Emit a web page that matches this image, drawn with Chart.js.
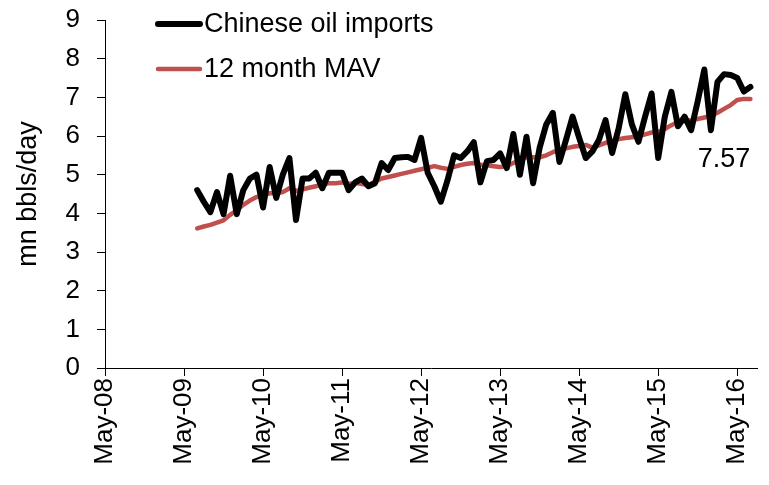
<!DOCTYPE html>
<html>
<head>
<meta charset="utf-8">
<script src="https://cdn.jsdelivr.net/npm/chart.js@4"></script>
<style>
  html, body { margin: 0; padding: 0; background: #fff; }
  #wrap { width: 769px; height: 485px; }
</style>
</head>
<body>
<div id="wrap"><canvas id="oilChart" width="769" height="485"></canvas></div>
<script>
// Month categories, May-08 .. Aug-16
const monthNames = ['Jan','Feb','Mar','Apr','May','Jun','Jul','Aug','Sep','Oct','Nov','Dec'];
const months = [];
for (let k = 0; k < 100; k++) {
    const m = (4 + k) % 12;
    const y = 8 + Math.floor((4 + k) / 12);
    months.push(monthNames[m] + '-' + String(y).padStart(2, '0'));
}

// Series start month
const seriesStart = 'Jul-09';

// Chinese oil imports, mn bbls/day (Jul-09 .. Jul-16)
const chineseImports = [
    4.60, 4.30, 4.03, 4.55, 3.98, 4.97, 3.98, 4.60, 4.90, 5.00, 4.15, 5.20,
    4.40, 5.00, 5.43, 3.83, 4.90, 4.90, 5.05, 4.65, 5.05, 5.05, 5.05, 4.60,
    4.80, 4.90, 4.70, 4.78, 5.30, 5.12, 5.43, 5.45, 5.46, 5.38, 5.95, 5.05,
    4.70, 4.30, 4.85, 5.50, 5.43, 5.60, 5.84, 4.80, 5.35, 5.38, 5.55, 5.17,
    6.05, 5.00, 5.98, 4.78, 5.70, 6.30, 6.60, 5.33, 5.90, 6.50, 5.95, 5.43,
    5.60, 5.90, 6.41, 5.56, 6.20, 7.08, 6.30, 5.85, 6.50, 7.10, 5.43, 6.50,
    7.14, 6.25, 6.50, 6.15, 6.90, 7.72, 6.15, 7.40, 7.60, 7.58, 7.50, 7.15,
    7.27
];

// 12 month moving average
const mav12 = [
    3.61, 3.66, 3.70, 3.76, 3.82, 3.96, 4.08, 4.22, 4.33, 4.42, 4.47, 4.52,
    4.52, 4.55, 4.65, 4.58, 4.62, 4.66, 4.70, 4.74, 4.78, 4.78, 4.80, 4.76,
    4.79, 4.76, 4.73, 4.82, 4.90, 4.94, 4.98, 5.02, 5.06, 5.10, 5.14, 5.18,
    5.22, 5.18, 5.15, 5.20, 5.25, 5.28, 5.30, 5.26, 5.24, 5.22, 5.20, 5.22,
    5.30, 5.38, 5.46, 5.45, 5.45, 5.50, 5.58, 5.64, 5.68, 5.72, 5.74, 5.77,
    5.70, 5.76, 5.82, 5.87, 5.92, 5.95, 5.97, 5.99, 6.04, 6.09, 6.10, 6.18,
    6.28, 6.36, 6.39, 6.41, 6.44, 6.48, 6.52, 6.60, 6.70, 6.80, 6.93, 6.96,
    6.96
];

const yTicks = [0, 1, 2, 3, 4, 5, 6, 7, 8, 9];
const noteText = '7.57';

const FONT = "'Liberation Sans', Arial, sans-serif";
const startIdx = months.indexOf(seriesStart);
function pad(values) {
    return months.map((m, i) => {
        const j = i - startIdx;
        return (j >= 0 && j < values.length) ? values[j] : null;
    });
}

// Legend inside the plot plus the value note
const insideLegend = {
    id: 'insideLegend',
    afterDraw(chart) {
        const ctx = chart.ctx;
        const area = chart.chartArea;
        ctx.save();
        chart.data.datasets.forEach((ds, i) => {
            const y = area.top + 4 + i * 45;
            const x0 = area.left + 53;
            ctx.strokeStyle = ds.borderColor;
            ctx.lineWidth = ds.borderWidth;
            ctx.lineCap = 'round';
            ctx.beginPath();
            ctx.moveTo(x0, y);
            ctx.lineTo(x0 + 42, y);
            ctx.stroke();
            ctx.fillStyle = '#000';
            ctx.font = '27px ' + FONT;
            ctx.textBaseline = 'middle';
            ctx.textAlign = 'left';
            ctx.fillText(ds.label, x0 + 46, y + 1);
        });
        const xs = chart.scales.x, ys = chart.scales.y;
        ctx.fillStyle = '#000';
        ctx.font = '27px ' + FONT;
        ctx.textAlign = 'center';
        ctx.textBaseline = 'middle';
        ctx.fillText(noteText, xs.getPixelForValue(months.indexOf('Mar-16')), ys.getPixelForValue(5.4));
        ctx.restore();
    }
};

new Chart(document.getElementById('oilChart'), {
    type: 'line',
    data: {
        labels: months,
        datasets: [{
            label: 'Chinese oil imports',
            data: pad(chineseImports),
            borderColor: '#000000',
            borderWidth: 6,
            pointRadius: 0,
            borderJoinStyle: 'round',
            borderCapStyle: 'round',
            tension: 0
        }, {
            label: '12 month MAV',
            data: pad(mav12),
            borderColor: '#C0504D',
            borderWidth: 4.5,
            pointRadius: 0,
            borderJoinStyle: 'round',
            borderCapStyle: 'round',
            tension: 0
        }]
    },
    options: {
        responsive: false,
        animation: false,
        layout: { padding: { top: 20, right: 12, left: 0, bottom: 0 } },
        plugins: {
            legend: { display: false },
            tooltip: { enabled: false }
        },
        scales: {
            x: {
                type: 'category',
                offset: false,
                afterFit(scale) { scale.height = 117; scale.paddingLeft = 0; scale.paddingRight = 0; },
                border: { display: true, color: '#000', width: 1 },
                grid: { drawOnChartArea: false, drawTicks: true, tickLength: 8, color: '#000' },
                ticks: {
                    autoSkip: false,
                    maxRotation: 90,
                    minRotation: 90,
                    padding: 2,
                    color: '#000',
                    font: { family: FONT, size: 26 },
                    callback(value) {
                        const l = this.getLabelForValue(value);
                        return l.startsWith('May') ? l : null;
                    }
                }
            },
            y: {
                min: 0,
                max: 9,
                afterFit(scale) { scale.width = 105; scale.paddingTop = 0; scale.paddingBottom = 0; },
                afterBuildTicks(scale) { scale.ticks = yTicks.map(v => ({ value: v })); },
                border: { display: true, color: '#000', width: 1 },
                grid: { drawOnChartArea: false, drawTicks: true, tickLength: 8, color: '#000' },
                ticks: {
                    padding: 17,
                    color: '#000',
                    font: { family: FONT, size: 26 }
                },
                title: {
                    display: true,
                    text: 'mn bbls/day',
                    color: '#000',
                    padding: { top: 12, bottom: 4 },
                    font: { family: FONT, size: 27 }
                }
            }
        }
    },
    plugins: [insideLegend]
});
</script>
</body>
</html>
